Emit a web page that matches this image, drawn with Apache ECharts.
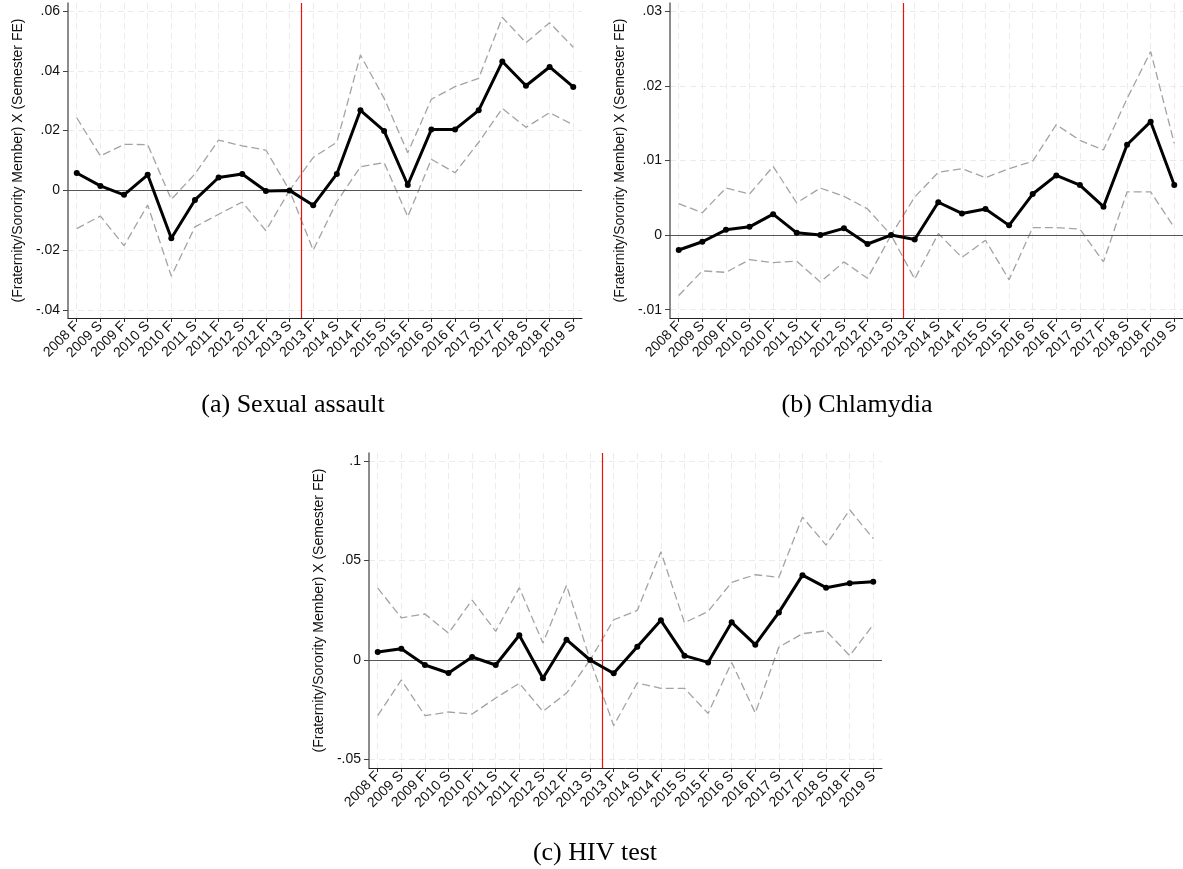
<!DOCTYPE html>
<html>
<head>
<meta charset="utf-8">
<script src="https://cdn.jsdelivr.net/npm/echarts@6/dist/echarts.min.js"></script>
<style>
html,body{margin:0;padding:0;background:#fff;}
#c{width:1183px;height:869px;}
</style>
</head>
<body>
<div id="c"></div>
<script>
var categories = ['2008 F','2009 S','2009 F','2010 S','2010 F','2011 S','2011 F','2012 S','2012 F','2013 S','2013 F','2014 S','2014 F','2015 S','2015 F','2016 S','2016 F','2017 S','2017 F','2018 S','2018 F','2019 S'];

var assaultCoef = [0.0058,0.0015,-0.0015,0.0052,-0.0160,-0.0032,0.0043,0.0055,-0.0002,0,-0.0050,0.0055,0.0268,0.0199,0.0018,0.0204,0.0204,0.0268,0.0431,0.0350,0.0413,0.0346];
var assaultHi = [0.0243,0.0115,0.0154,0.0153,-0.0030,0.0055,0.0168,0.0149,0.0135,0,0.0110,0.0161,0.0453,0.0308,0.0126,0.0305,0.0347,0.0375,0.0579,0.0494,0.0561,0.0479];
var assaultLo = [-0.0128,-0.0086,-0.0185,-0.0049,-0.0287,-0.0122,-0.0080,-0.0039,-0.0135,0,-0.0200,-0.0038,0.0079,0.0093,-0.0088,0.0104,0.0059,0.0161,0.0274,0.0211,0.0260,0.0219];

var chlamCoef = [-0.0020,-0.0009,0.0007,0.0011,0.0028,0.0003,0,0.0009,-0.0012,0,-0.0006,0.0044,0.0029,0.0035,0.0013,0.0055,0.0080,0.0067,0.0038,0.0121,0.0152,0.0067];
var chlamHi = [0.0042,0.0030,0.0063,0.0055,0.0092,0.0043,0.0063,0.0052,0.0035,0,0.0051,0.0084,0.0089,0.0077,0.0089,0.0099,0.0148,0.0127,0.0114,0.0183,0.0246,0.0123];
var chlamLo = [-0.0081,-0.0048,-0.0050,-0.0033,-0.0037,-0.0035,-0.0063,-0.0036,-0.0058,0,-0.0059,0.0002,-0.0030,-0.0007,-0.0060,0.0010,0.0010,0.0008,-0.0036,0.0058,0.0058,0.0010];

var hivCoef = [0.0040,0.0057,-0.0025,-0.0065,0.0015,-0.0025,0.0124,-0.0092,0.0102,0,-0.0067,0.0067,0.0199,0.0022,-0.0012,0.0189,0.0077,0.0239,0.0426,0.0363,0.0385,0.0393];
var hivHi = [0.0361,0.0212,0.0231,0.0135,0.0301,0.0144,0.0363,0.0085,0.0375,0,0.0202,0.0249,0.0543,0.0187,0.0244,0.0390,0.0428,0.0415,0.0717,0.0577,0.0754,0.0609];
var hivLo = [-0.0279,-0.0100,-0.0279,-0.0261,-0.0271,-0.0191,-0.0117,-0.0258,-0.0166,0,-0.0329,-0.0115,-0.0142,-0.0142,-0.0268,-0.0012,-0.0266,0.0065,0.0132,0.0147,0.0022,0.0177];

var assaultTicks = [-0.04,-0.02,0,0.02,0.04,0.06];
var assaultTickLabels = ['-.04','-.02','0','.02','.04','.06'];
var chlamTicks = [-0.01,0,0.01,0.02,0.03];
var chlamTickLabels = ['-.01','0','.01','.02','.03'];
var hivTicks = [-0.05,0,0.05,0.1];
var hivTickLabels = ['-.05','0','.05','.1'];

var yTitle = '(Fraternity/Sorority Member) X (Semester FE)';
var captions = ['(a) Sexual assault','(b) Chlamydia','(c) HIV test'];
var treatAt = 9.5;

var panels = [
  {grid:{left:68, top:3, width:514, height:315}, ymin:-0.0427, ymax:0.0627, ticks:assaultTicks, labels:assaultTickLabels, coef:assaultCoef, hi:assaultHi, lo:assaultLo},
  {grid:{left:670, top:3, width:513, height:315}, ymin:-0.01112, ymax:0.03111, ticks:chlamTicks, labels:chlamTickLabels, coef:chlamCoef, hi:chlamHi, lo:chlamLo},
  {grid:{left:369, top:453, width:513, height:315}, ymin:-0.0542, ymax:0.1039, ticks:hivTicks, labels:hivTickLabels, coef:hivCoef, hi:hivHi, lo:hivLo}
];

var xIdx = categories.map(function(_, i){ return i; });
function pairs(arr){ return arr.map(function(v, i){ return [i, v]; }); }

var grids = [], xAxes = [], yAxes = [], series = [];
panels.forEach(function(p, k){
  grids.push(p.grid);
  xAxes.push({
    type:'value', gridIndex:k, min:-0.37, max:21.37,
    axisLine:{show:true, onZero:false, lineStyle:{color:'#222', width:1}},
    axisTick:{show:true, length:4, customValues:xIdx, lineStyle:{color:'#222'}},
    axisLabel:{customValues:xIdx, rotate:45, margin:6, color:'#111', fontFamily:'Liberation Sans', fontSize:14,
      formatter:function(v){ return categories[Math.round(v)]; }},
    splitLine:{show:true, lineStyle:{color:'#ebebeb', type:[6,4], width:1}}
  });
  yAxes.push({
    type:'value', gridIndex:k, min:p.ymin, max:p.ymax,
    name:yTitle, nameLocation:'middle', nameGap:43, nameRotate:90,
    nameTextStyle:{fontFamily:'Liberation Sans', fontSize:14, color:'#111'},
    axisLine:{show:true, onZero:false, lineStyle:{color:'#666', width:1.5}},
    axisTick:{show:true, length:5, customValues:p.ticks, lineStyle:{color:'#444'}},
    axisLabel:{customValues:p.ticks, margin:8, color:'#111', fontFamily:'Liberation Sans', fontSize:14,
      formatter:(function(tk, lb){ return function(v){
        var best=0; for(var i=1;i<tk.length;i++){ if(Math.abs(tk[i]-v)<Math.abs(tk[best]-v)) best=i; }
        return lb[best]; }; })(p.ticks, p.labels)},
    splitLine:{show:true, lineStyle:{color:'#ebebeb', type:[6,4], width:1}}
  });
  series.push({
    type:'line', xAxisIndex:k, yAxisIndex:k, data:pairs(p.hi), symbol:'none', silent:true,
    lineStyle:{color:'#a3a3a3', width:1.3, type:[8,4]}, z:3
  });
  series.push({
    type:'line', xAxisIndex:k, yAxisIndex:k, data:pairs(p.lo), symbol:'none', silent:true,
    lineStyle:{color:'#a3a3a3', width:1.3, type:[8,4]}, z:3
  });
  series.push({
    type:'line', xAxisIndex:k, yAxisIndex:k, data:pairs(p.coef), symbol:'circle', symbolSize:6, silent:true,
    itemStyle:{color:'#000'}, lineStyle:{color:'#000', width:3}, z:5,
    markLine:{silent:true, symbol:'none', label:{show:false},
      data:[
        {yAxis:0, lineStyle:{color:'#555', width:1, type:'solid'}},
        {xAxis:treatAt, lineStyle:{color:'#e8120c', width:1.2, type:'solid'}}
      ]}
  });
});

var chart = echarts.init(document.getElementById('c'), null, {renderer:'canvas'});
chart.setOption({
  animation:false,
  backgroundColor:'#fff',
  grid:grids, xAxis:xAxes, yAxis:yAxes, series:series,
  graphic:[
    {type:'text', x:293, y:405, style:{text:captions[0], font:'26px "Liberation Serif"', fill:'#000', align:'center', verticalAlign:'middle'}},
    {type:'text', x:857, y:405, style:{text:captions[1], font:'26px "Liberation Serif"', fill:'#000', align:'center', verticalAlign:'middle'}},
    {type:'text', x:595, y:853, style:{text:captions[2], font:'26px "Liberation Serif"', fill:'#000', align:'center', verticalAlign:'middle'}}
  ]
});
</script>
</body>
</html>
